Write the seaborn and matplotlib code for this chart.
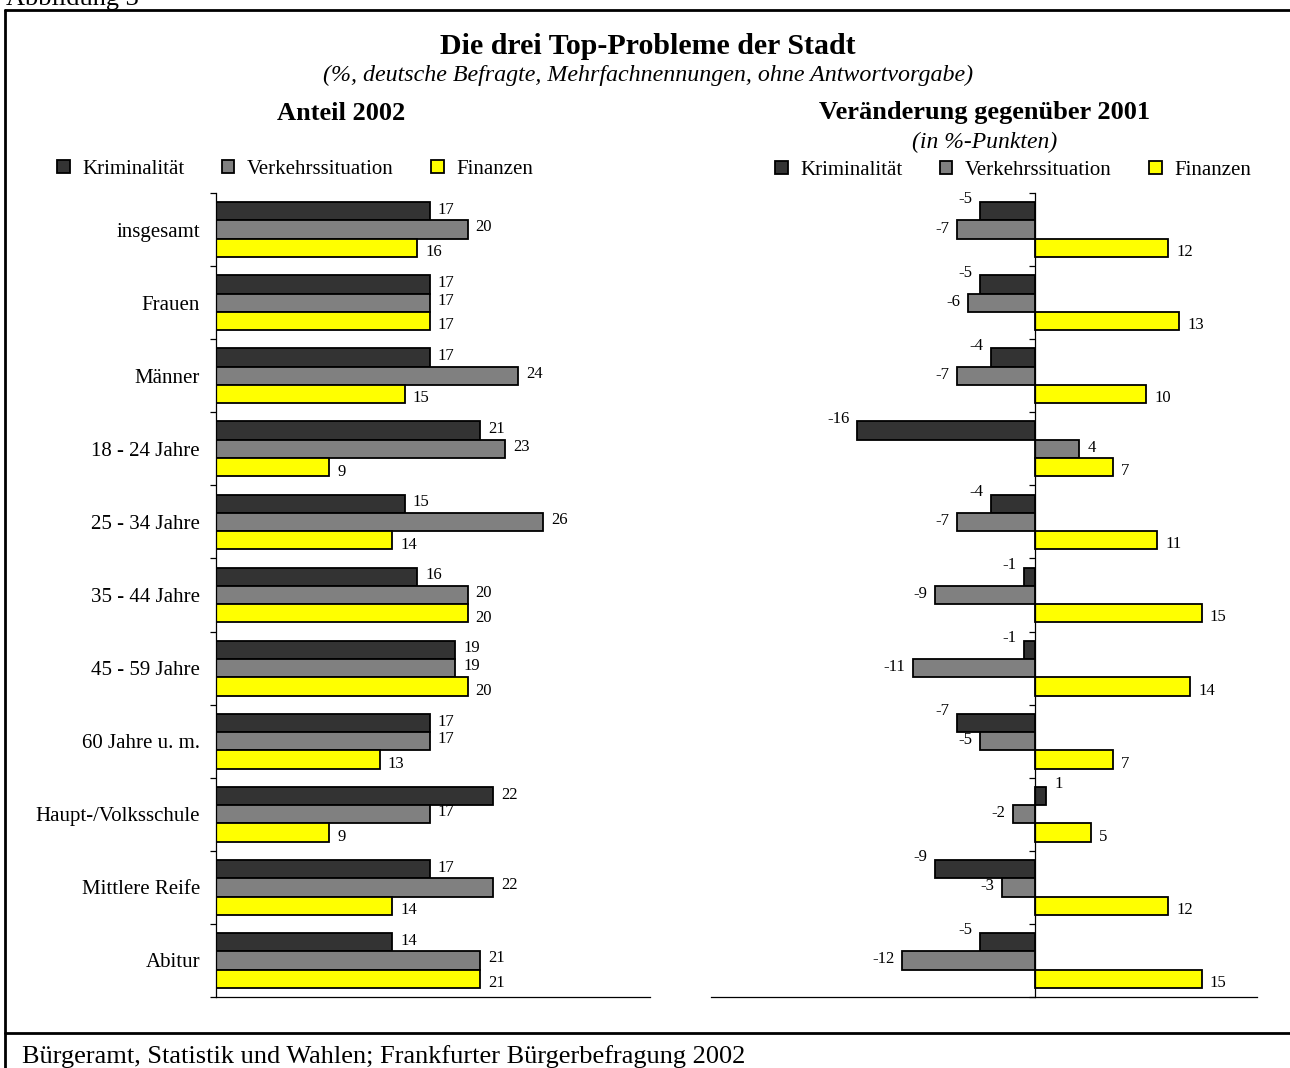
import numpy as np
import pandas as pd
import matplotlib
matplotlib.use("Agg")
import matplotlib.pyplot as plt
from matplotlib.lines import Line2D
import seaborn as sns

# ---- data ----
categories = ["insgesamt", "Frauen", "Männer", "18 - 24 Jahre", "25 - 34 Jahre",
              "35 - 44 Jahre", "45 - 59 Jahre", "60 Jahre u. m.",
              "Haupt-/Volksschule", "Mittlere Reife", "Abitur"]
problems = ["Kriminalität", "Verkehrssituation", "Finanzen"]

share_krim = [17, 17, 17, 21, 15, 16, 19, 17, 22, 17, 14]
share_verk = [20, 17, 24, 23, 26, 20, 19, 17, 17, 22, 21]
share_fin = [16, 17, 15, 9, 14, 20, 20, 13, 9, 14, 21]

diff_krim = [-5, -5, -4, -16, -4, -1, -1, -7, 1, -9, -5]
diff_verk = [-7, -6, -7, 4, -7, -9, -11, -5, -2, -3, -12]
diff_fin = [12, 13, 10, 7, 11, 15, 14, 7, 5, 12, 15]

colors = ["#333333", "#808080", "#FFFF00"]

title = "Die drei Top-Probleme der Stadt"
subtitle = "(%, deutsche Befragte, Mehrfachnennungen, ohne Antwortvorgabe)"
left_title = "Anteil 2002"
right_title = "Veränderung gegenüber 2001"
right_subtitle = "(in %-Punkten)"
footer = "Bürgeramt, Statistik und Wahlen; Frankfurter Bürgerbefragung 2002"
caption = "Abbildung 3"


def long_frame(series):
    rows = []
    for prob, vals in zip(problems, series):
        for cat, v in zip(categories, vals):
            rows.append({"Kategorie": cat, "Problem": prob, "Wert": v})
    return pd.DataFrame(rows)


share_df = long_frame([share_krim, share_verk, share_fin])
diff_df = long_frame([diff_krim, diff_verk, diff_fin])

sns.set_theme(style="white")
plt.rcParams["font.family"] = ["Liberation Serif", "DejaVu Serif"]
plt.rcParams["text.color"] = "black"
plt.rcParams["ytick.color"] = "black"
plt.rcParams["ytick.labelcolor"] = "black"

W, H = 1290, 1068
fig = plt.figure(figsize=(W / 100, H / 100), dpi=100)
fig.patch.set_facecolor("white")


def px_box(x0, y0, x1, y1):
    return [x0 / W, 1 - y1 / H, (x1 - x0) / W, (y1 - y0) / H]


ax_l = fig.add_axes(px_box(216, 193, 650, 997))
ax_r = fig.add_axes(px_box(711, 193, 1257, 997))

for ax, df in ((ax_l, share_df), (ax_r, diff_df)):
    sns.barplot(data=df, y="Kategorie", x="Wert", hue="Problem", orient="h",
                order=categories, hue_order=problems, palette=colors,
                saturation=1, width=0.75, edgecolor="black", linewidth=1.3,
                ax=ax, legend=True)

ax_l.set_xlim(0, 34.5)
ax_r.set_xlim(-29.2, 20.0)

for ax in (ax_l, ax_r):
    ax.set_ylim(10.5, -0.5)
    ax.set_xlabel("")
    ax.set_ylabel("")
    ax.spines["top"].set_visible(False)
    ax.spines["right"].set_visible(False)
    for s in ("left", "bottom"):
        ax.spines[s].set_color("black")
        ax.spines[s].set_linewidth(0.9)
    ax.tick_params(axis="x", length=0, labelbottom=False)
    ax.set_yticks(np.arange(-0.5, 11, 1), minor=True)
    ax.tick_params(axis="y", which="minor", length=4, width=0.9,
                   direction="out", color="black", left=True)
    ax.tick_params(axis="y", which="major", length=0)
    ax.set_facecolor("white")

ax_l.tick_params(axis="y", which="major", labelsize=15, pad=11.5,
                 labelcolor="black")
ax_r.spines["left"].set_position(("data", 0))
ax_r.tick_params(axis="y", which="major", labelleft=False)

# legends above each panel
for ax, cx, cy in ((ax_l, 295, 169), (ax_r, 1013, 170)):
    handles, labels = ax.get_legend_handles_labels()
    ax.get_legend().remove()
    fig.legend(handles, labels, loc="center",
               bbox_to_anchor=(cx / W, 1 - cy / H), bbox_transform=fig.transFigure,
               ncol=3, frameon=False, fontsize=15, handlelength=0.6,
               handleheight=0.6, handletextpad=0.6, columnspacing=1.8,
               borderpad=0, borderaxespad=0)

# value labels
lab_kw = dict(textcoords="offset points", fontsize=12, color="black")
left_dy = [1, 1.5, -3.2]
right_dy = [8.5, 0.7, -3.0]
for i, vals in enumerate([share_krim, share_verk, share_fin]):
    for bar, v in zip(ax_l.containers[i], vals):
        yc = bar.get_y() + bar.get_height() / 2
        ax_l.annotate(f"{v}", xy=(v, yc), xytext=(5.8, left_dy[i]),
                      ha="left", va="center", **lab_kw)
for i, vals in enumerate([diff_krim, diff_verk, diff_fin]):
    for bar, v in zip(ax_r.containers[i], vals):
        yc = bar.get_y() + bar.get_height() / 2
        if v < 0:
            ax_r.annotate(f"{v}", xy=(v, yc), xytext=(-5.5, right_dy[i]),
                          ha="right", va="center", **lab_kw)
        else:
            ax_r.annotate(f"{v}", xy=(v, yc), xytext=(5.8, right_dy[i]),
                          ha="left", va="center", **lab_kw)

# headings
fig.text(648 / W, 1 - 46 / H, title, ha="center", va="center",
         fontsize=21.5, fontweight="bold")
fig.text(648 / W, 1 - 75 / H, subtitle, ha="center", va="center",
         fontsize=17.3, fontstyle="italic")
fig.text(341 / W, 1 - 113 / H, left_title, ha="center", va="center",
         fontsize=19, fontweight="bold")
fig.text(985 / W, 1 - 113 / H, right_title, ha="center", va="center",
         fontsize=19, fontweight="bold")
fig.text(985 / W, 1 - 142 / H, right_subtitle, ha="center", va="center",
         fontsize=17, fontstyle="italic")

# frame and footer
frame_kw = dict(color="black", linewidth=2, transform=fig.transFigure)
fig.add_artist(Line2D([5 / W, 5 / W], [0, 1 - 10 / H], **frame_kw))
fig.add_artist(Line2D([5 / W, 1], [1 - 10 / H, 1 - 10 / H], **frame_kw))
fig.add_artist(Line2D([5 / W, 1], [1 - 1033 / H, 1 - 1033 / H], **frame_kw))
fig.text(6 / W, 1 - 5 / H, caption, ha="left", va="baseline", fontsize=19)
fig.text(22 / W, 1 - 1063 / H, footer, ha="left", va="baseline", fontsize=19)

fig.savefig("out.png", dpi=100, facecolor="white")
